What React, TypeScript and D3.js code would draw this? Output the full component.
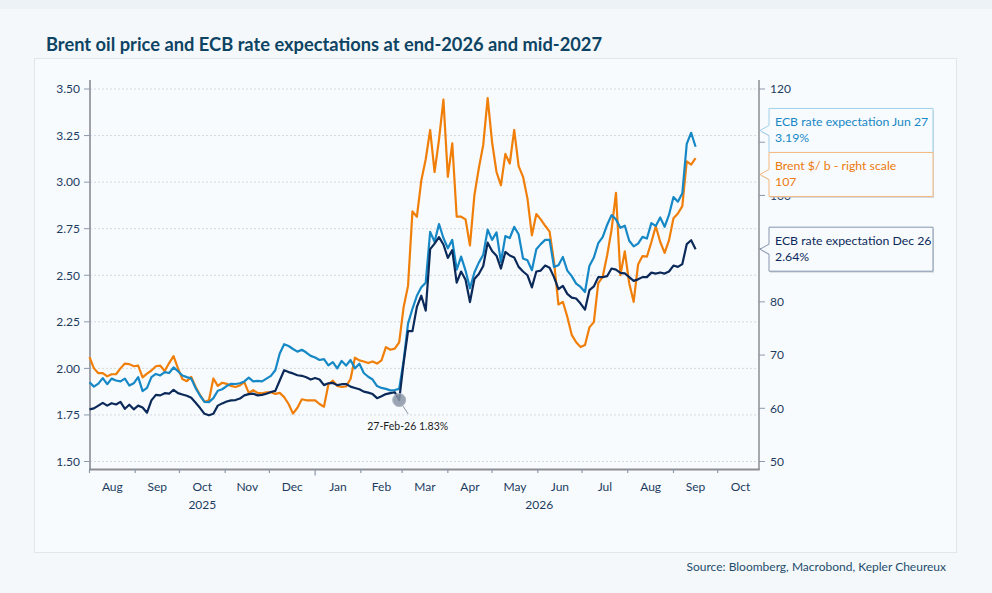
import React from "react";
import * as d3 from "d3";

const dates = [
  "2025-08-01","2025-08-04","2025-08-07","2025-08-10","2025-08-13","2025-08-16","2025-08-19","2025-08-22","2025-08-25","2025-08-28","2025-08-31",
  "2025-09-03","2025-09-06","2025-09-09","2025-09-12","2025-09-15","2025-09-18","2025-09-21","2025-09-24","2025-09-27","2025-09-30",
  "2025-10-03","2025-10-06","2025-10-09","2025-10-12","2025-10-15","2025-10-18","2025-10-21","2025-10-24","2025-10-27","2025-10-30",
  "2025-11-02","2025-11-05","2025-11-08","2025-11-11","2025-11-14","2025-11-17","2025-11-20","2025-11-23","2025-11-26","2025-11-29",
  "2025-12-02","2025-12-05","2025-12-08","2025-12-11","2025-12-14","2025-12-17","2025-12-20","2025-12-23","2025-12-26","2025-12-29",
  "2026-01-01","2026-01-04","2026-01-07","2026-01-10","2026-01-13","2026-01-16","2026-01-19","2026-01-22","2026-01-25","2026-01-28","2026-01-31",
  "2026-02-03","2026-02-06","2026-02-09","2026-02-12","2026-02-15","2026-02-18","2026-02-21","2026-02-24","2026-02-27",
  "2026-03-02","2026-03-05","2026-03-08","2026-03-11","2026-03-14","2026-03-17","2026-03-20","2026-03-23","2026-03-26","2026-03-29",
  "2026-04-01","2026-04-04","2026-04-07","2026-04-10","2026-04-13","2026-04-16","2026-04-19","2026-04-22","2026-04-25","2026-04-28",
  "2026-05-01","2026-05-04","2026-05-07","2026-05-10","2026-05-13","2026-05-16","2026-05-19","2026-05-22","2026-05-25","2026-05-28","2026-05-31",
  "2026-06-03","2026-06-06","2026-06-09","2026-06-12","2026-06-15","2026-06-18","2026-06-21","2026-06-24","2026-06-27","2026-06-30",
  "2026-07-03","2026-07-06","2026-07-09","2026-07-12","2026-07-15","2026-07-18","2026-07-21","2026-07-24","2026-07-27","2026-07-30",
  "2026-08-02","2026-08-05","2026-08-08","2026-08-11","2026-08-14","2026-08-17","2026-08-20","2026-08-23","2026-08-26","2026-08-29",
  "2026-09-01","2026-09-04","2026-09-07","2026-09-10","2026-09-13","2026-09-16",
];

// ECB rate expectation Dec 26 (%)
const ecbDec26 = [
  1.78, 1.785, 1.80, 1.815, 1.80, 1.813, 1.806, 1.82, 1.783, 1.805, 1.78,
  1.80, 1.79, 1.762, 1.828, 1.858, 1.855, 1.867, 1.864, 1.885, 1.867,
  1.86, 1.853, 1.842, 1.815, 1.787, 1.756, 1.748, 1.756, 1.80, 1.812,
  1.822, 1.828, 1.83, 1.838, 1.855, 1.862, 1.864, 1.855, 1.858, 1.864,
  1.873, 1.879, 1.935, 1.99, 1.98, 1.973, 1.963, 1.96, 1.952, 1.94,
  1.948, 1.94, 1.91, 1.92, 1.922, 1.91, 1.915, 1.916, 1.902, 1.895, 1.888,
  1.875, 1.87, 1.862, 1.84, 1.85, 1.862, 1.867, 1.872, 1.83,
  2.03, 2.20, 2.20, 2.33, 2.39, 2.31, 2.64, 2.67, 2.705, 2.665,
  2.593, 2.635, 2.46, 2.52, 2.476, 2.356, 2.48, 2.507, 2.55, 2.675,
  2.63, 2.605, 2.536, 2.625, 2.606, 2.595, 2.545, 2.52, 2.50, 2.435, 2.52,
  2.525, 2.552, 2.54, 2.49, 2.425, 2.443, 2.40, 2.38, 2.375, 2.348,
  2.315, 2.42, 2.44, 2.49, 2.49, 2.495, 2.536, 2.53, 2.513, 2.51,
  2.49, 2.47, 2.478, 2.49, 2.49, 2.514, 2.509, 2.515, 2.509, 2.52,
  2.552, 2.545, 2.56, 2.667, 2.688, 2.64,
];

// ECB rate expectation Jun 27 (%)
const ecbJun27 = [
  1.926, 1.902, 1.918, 1.948, 1.915, 1.945, 1.935, 1.93, 1.945, 1.908, 1.92,
  1.953, 1.878, 1.895, 1.953, 1.97, 1.962, 1.98, 1.975, 2.005, 1.985,
  1.962, 1.953, 1.945, 1.893, 1.853, 1.82, 1.819, 1.84, 1.88, 1.888,
  1.905, 1.917, 1.916, 1.92, 1.93, 1.95, 1.93, 1.933, 1.93, 1.945,
  1.96, 1.99, 2.08, 2.13, 2.12, 2.104, 2.09, 2.1, 2.085, 2.067,
  2.058, 2.045, 2.05, 2.016, 2.034, 2.0, 2.04, 2.015, 2.045, 2.0, 2.025,
  1.975, 1.955, 1.94, 1.905, 1.895, 1.89, 1.882, 1.884, 1.89,
  2.04, 2.24, 2.32, 2.39, 2.435, 2.46, 2.733, 2.68, 2.775, 2.70,
  2.645, 2.69, 2.53, 2.60, 2.525, 2.43, 2.515, 2.568, 2.61, 2.745,
  2.69, 2.73, 2.571, 2.71, 2.70, 2.76, 2.72, 2.59, 2.58, 2.527, 2.64,
  2.667, 2.69, 2.69, 2.545, 2.554, 2.598, 2.525, 2.495, 2.455, 2.437,
  2.41, 2.55, 2.595, 2.672, 2.705, 2.77, 2.823, 2.80, 2.755, 2.766,
  2.685, 2.655, 2.67, 2.706, 2.697, 2.78, 2.765, 2.81, 2.76, 2.825,
  2.92, 2.895, 2.94, 3.205, 3.265, 3.19,
];

// Brent $/b (right scale)
const brent = [
  69.6, 67.5, 66.6, 66.6, 66.0, 66.4, 66.4, 67.5, 68.4, 68.3, 67.9,
  68.0, 65.8, 66.5, 67.1, 67.9, 68.0, 67.0, 68.5, 69.8, 67.5,
  65.5, 65.1, 65.9, 64.0, 62.5, 61.2, 61.5, 65.6, 64.2, 64.8,
  64.6, 64.2, 64.0, 64.3, 64.9, 62.9, 63.4, 62.9, 62.8, 63.0,
  63.0, 62.7, 62.9, 62.1, 60.8, 59.0, 60.1, 61.7, 61.5, 61.5,
  61.5, 60.8, 60.3, 64.5, 65.2, 64.2, 64.0, 64.1, 65.5, 69.5, 69.0,
  68.8, 68.5, 68.8, 68.4, 69.0, 71.5, 71.0, 71.2, 72.4,
  79.0, 83.0, 97.0, 96.0, 102.8, 106.8, 112.3, 104.4, 110.5, 118.0,
  103.5, 109.8, 96.0, 96.0, 95.5, 90.6, 100.0, 105.1, 109.5, 118.3,
  110.0, 104.4, 101.9, 107.8, 106.0, 112.3, 105.5, 103.5, 99.4, 92.5, 96.5,
  95.5, 94.3, 93.2, 87.5, 79.5, 80.0, 77.2, 73.8, 72.4, 71.5,
  71.9, 75.2, 76.2, 83.5, 84.7, 88.7, 93.5, 100.5, 85.0, 89.5,
  83.5, 80.0, 87.0, 88.6, 88.5, 91.2, 94.2, 91.3, 89.2, 91.6,
  95.7, 96.6, 98.0, 106.4, 105.8, 107.0,
];

const leftTicks = [1.5, 1.75, 2.0, 2.25, 2.5, 2.75, 3.0, 3.25, 3.5];
const rightTicks = [50, 60, 70, 80, 90, 100, 110, 120];
const monthLabels = ["Aug", "Sep", "Oct", "Nov", "Dec", "Jan", "Feb", "Mar", "Apr", "May", "Jun", "Jul", "Aug", "Sep", "Oct"];
const yearLabels = ["2025", "2026"];
const seriesNames = ["ECB rate expectation Jun 27", "Brent $/ b - right scale", "ECB rate expectation Dec 26"];
const annotationDate = "2026-02-27";
const titleText = "Brent oil price and ECB rate expectations at end-2026 and mid-2027";
const sourceText = "Source: Bloomberg, Macrobond, Kepler Cheureux";

const FONT = "Lato, 'Open Sans', 'DejaVu Sans', sans-serif";
const C_NAVY = "#0b2a5a";
const C_BLUE = "#1688c6";
const C_ORANGE = "#f07f0a";
const C_AXIS_TEXT = "#1c3b60";

export default function App() {
  const parse = d3.timeParse("%Y-%m-%d");
  const dts = dates.map((d) => parse(d) as Date);

  const left = 90, right = 759, top = 80, bottom = 469.5;
  const x = d3.scaleTime().domain([new Date(2025, 7, 1), new Date(2026, 9, 29)]).range([89.5, 759]);
  const yL = d3.scaleLinear().domain([1.5, 3.5]).range([461.5, 89]);
  const yR = d3.scaleLinear().domain([50, 120]).range([461.5, 89]);

  const lineL = d3.line<number>().x((_, i) => x(dts[i])).y((v) => yL(v));
  const lineR = d3.line<number>().x((_, i) => x(dts[i])).y((v) => yR(v));

  const monthStarts = d3.timeMonth.range(new Date(2025, 7, 1), new Date(2026, 10, 2));
  const yearBounds = [
    [new Date(2025, 7, 1), new Date(2026, 0, 1)],
    [new Date(2026, 0, 1), new Date(2026, 10, 1)],
  ];

  // end-of-line callouts
  const last = dates.length - 1;
  const boxH = 44;
  const callouts = [
    { name: seriesNames[0], value: d3.format(".2f")(ecbJun27[last]) + "%", cy: yL(ecbJun27[last]), color: C_BLUE, border: "#a3d0ea" },
    { name: seriesNames[1], value: d3.format(".0f")(brent[last]), cy: yR(brent[last]), color: "#ec7a0c", border: "#f5b87e" },
    { name: seriesNames[2], value: d3.format(".2f")(ecbDec26[last]) + "%", cy: yL(ecbDec26[last]), color: C_NAVY, border: "#8596ad" },
  ].sort((a, b) => a.cy - b.cy);
  const clusters: { items: typeof callouts }[] = [];
  callouts.forEach((c) => {
    const prev = clusters[clusters.length - 1];
    if (prev) {
      const n = prev.items.length;
      const mean = d3.mean(prev.items, (d) => d.cy) as number;
      const lastPos = mean + ((n - 1) / 2) * boxH;
      if (c.cy - lastPos < boxH) { prev.items.push(c); return; }
    }
    clusters.push({ items: [c] });
  });
  const placed: (typeof callouts[0] & { py: number })[] = [];
  clusters.forEach((cl) => {
    const n = cl.items.length;
    const mean = d3.mean(cl.items, (d) => d.cy) as number;
    cl.items.forEach((c, k) => placed.push({ ...c, py: mean + (k - (n - 1) / 2) * boxH }));
  });

  // right tick labels fully hidden beneath a callout box are not drawn
  const hiddenUnderBox = (yy: number) =>
    placed.some((p) => yy - 5 >= p.py - boxH / 2 && yy + 5 <= p.py + boxH / 2);

  const annIdx = dates.indexOf(annotationDate);
  const annX = x(dts[annIdx]);
  const annY = yL(ecbDec26[annIdx]);
  const annText = d3.timeFormat("%d-%b-%y")(dts[annIdx]) + " " + d3.format(".2f")(ecbDec26[annIdx]) + "%";

  const boxX = 769, boxW = 164, tipX = 760;

  return (
    <div style={{ width: 992, height: 593 }}>
      <style>{"body{margin:0;}"}</style>
      <svg width={992} height={593} style={{ display: "block", fontFamily: FONT }}>
        <rect x={0} y={0} width={992} height={593} fill="#f4f8fb" />
        <rect x={0} y={0} width={992} height={9} fill="#edf2f6" />
        <rect x={34.5} y={58.5} width={922} height={494} fill="#f8fbfe" stroke="#dfe6ec" strokeWidth={1} />
        <text x={46} y={51} fontSize={18.3} fontWeight={700} fill="#0e4463">{titleText}</text>

        {/* gridlines */}
        {leftTicks.map((t) => (
          <line key={"g" + t} x1={left} x2={right} y1={yL(t)} y2={yL(t)} stroke="#d3d9e0" strokeWidth={1} strokeDasharray="2,2" />
        ))}

        {/* left axis */}
        <line x1={left} x2={left} y1={top} y2={bottom} stroke="#9fa3a9" strokeWidth={2} />
        {leftTicks.map((t) => (
          <g key={"l" + t}>
            <line x1={84} x2={left} y1={yL(t)} y2={yL(t)} stroke="#8a98ab" strokeWidth={1} />
            <text x={80} y={yL(t) + 4.3} textAnchor="end" fontSize={12} fill={C_AXIS_TEXT}>{d3.format(".2f")(t)}</text>
          </g>
        ))}

        {/* right axis */}
        <line x1={right} x2={right} y1={top} y2={bottom} stroke="#8b8e93" strokeWidth={1.5} />
        {rightTicks.map((t) => (
          <g key={"r" + t}>
            <line x1={right} x2={765} y1={yR(t)} y2={yR(t)} stroke="#8a98ab" strokeWidth={1} />
            {!hiddenUnderBox(yR(t)) && (
              <text x={770} y={yR(t) + 4.3} fontSize={12} fill={C_AXIS_TEXT}>{t}</text>
            )}
          </g>
        ))}

        {/* bottom axis */}
        <line x1={left - 1} x2={right + 0.75} y1={bottom} y2={bottom} stroke="#8b8e93" strokeWidth={2} />
        {monthStarts.filter((m) => x(m) <= right).map((m, k) => (
          <line key={"t" + k} x1={x(m)} x2={x(m)} y1={bottom} y2={bottom + (m.getMonth() === 0 ? 6 : 3.5)} stroke="#8a98ab" strokeWidth={1.2} />
        ))}
        {monthLabels.map((lab, k) => {
          const s = monthStarts[k];
          const e = d3.timeMonth.offset(s, 1);
          return (
            <text key={"m" + k} x={(x(s) + x(e)) / 2} y={491} textAnchor="middle" fontSize={12} fill={C_AXIS_TEXT}>{lab}</text>
          );
        })}
        {yearLabels.map((lab, k) => (
          <text key={"y" + k} x={(x(yearBounds[k][0]) + x(yearBounds[k][1])) / 2} y={509} textAnchor="middle" fontSize={12} fill={C_AXIS_TEXT}>{lab}</text>
        ))}

        {/* series */}
        <path d={lineR(brent) || ""} fill="none" stroke={C_ORANGE} strokeWidth={2.2} strokeLinejoin="round" />
        <path d={lineL(ecbJun27) || ""} fill="none" stroke={C_BLUE} strokeWidth={2.2} strokeLinejoin="round" />
        <path d={lineL(ecbDec26) || ""} fill="none" stroke={C_NAVY} strokeWidth={2.2} strokeLinejoin="round" />

        {/* annotation */}
        <line x1={annX + 3.5} y1={annY + 5.5} x2={annX + 9} y2={annY + 14} stroke="#8d97a6" strokeWidth={1} />
        <circle cx={annX} cy={annY} r={6.5} fill="#8a94a6" fillOpacity={0.85} stroke="#aeb6c2" strokeWidth={1} />
        <text x={annX + 8.5} y={annY + 30} textAnchor="middle" fontSize={10.5} fill="#1d1d1d">{annText}</text>

        {/* callouts */}
        {placed.map((c, k) => {
          const t = c.py - boxH / 2;
          const b = c.py + boxH / 2;
          const d = `M${boxX},${t} H${boxX + boxW} V${b} H${boxX} V${c.py + 5} L${tipX},${c.py} L${boxX},${c.py - 5} Z`;
          return (
            <g key={"c" + k}>
              <path d={d} transform="translate(1,1.5)" fill="#b9c3ce" fillOpacity={0.6} />
              <path d={d} fill="#f8fbfe" stroke={c.border} strokeWidth={1} />
              <text x={775} y={t + 17.5} fontSize={12.3} fill={c.color}>{c.name}</text>
              <text x={775} y={t + 33.5} fontSize={12.3} fill={c.color}>{c.value}</text>
            </g>
          );
        })}

        <text x={946} y={571} textAnchor="end" fontSize={12} fill="#1f4d6c">{sourceText}</text>
      </svg>
    </div>
  );
}
